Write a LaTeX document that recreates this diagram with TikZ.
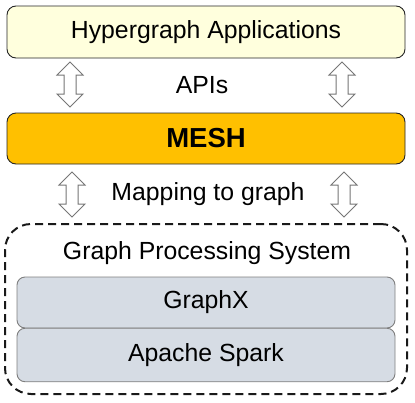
\documentclass[tikz,border=0pt]{standalone}
\usepackage{fontspec}
\setmainfont{Liberation Sans}
\definecolor{appfill}{HTML}{FFFFDD}
\definecolor{meshfill}{HTML}{FFC000}
\definecolor{gxfill}{HTML}{D6DCE4}
\definecolor{gxline}{HTML}{7F7F7F}
\definecolor{arrline}{HTML}{767676}
\tikzset{
  layer/.style={draw=black!85, line width=0.9pt, rounded corners=9pt, minimum width=398pt, inner sep=0pt},
  sublayer/.style={draw=gxline, fill=gxfill, line width=0.9pt, rounded corners=8pt, minimum width=378pt, inner sep=0pt},
  lbl/.style={font=\fontsize{24.8}{28}\selectfont, inner sep=0pt},
  pics/updown/.style={code={
    \draw[draw=arrline, fill=white, line width=1pt, line join=miter]
      (0,-22.5) -- (13,-9.5) -- (6,-9.5) -- (6,9.5) -- (13,9.5) -- (0,22.5)
      -- (-13,9.5) -- (-6,9.5) -- (-6,-9.5) -- (-13,-9.5) -- cycle;
  }}
}
\begin{document}
\begin{tikzpicture}[x=1pt,y=-1pt]
\useasboundingbox (0,0) rectangle (415,402);
\node[layer, fill=appfill, minimum height=52pt] (app) at (206,32) {};
\node[lbl] (apptxt) at (206,32) {Hypergraph Applications};
\node[layer, fill=meshfill, minimum height=51pt] (mesh) at (206,138.5) {};
\node[lbl, font=\fontsize{27.5}{30}\selectfont\bfseries] (meshtxt) at (206,138.5) {MESH};
\pic (a1) at (70,84.5) {updown};
\pic (a2) at (342,84.5) {updown};
\node[lbl] (apis) at (202,85) {APIs};
\pic (a3) at (72,194.5) {updown};
\pic (a4) at (344,194.5) {updown};
\node[lbl] (map) at (208,194) {Mapping to graph};
\node[draw=black!90, dash pattern=on 8pt off 5pt, line width=2pt, rounded corners=26pt,
  minimum width=402pt, minimum height=170pt, inner sep=0pt] (gps) at (206,309) {};
\node[lbl] (gpstxt) at (207,253) {Graph Processing System};
\node[sublayer, minimum height=51pt] (gx) at (206,302.5) {};
\node[lbl] (gxtxt) at (206,302.5) {GraphX};
\node[sublayer, minimum height=53.5pt] (spark) at (206,355) {};
\node[lbl] (sparktxt) at (206,355) {Apache Spark};
\end{tikzpicture}
\end{document}
